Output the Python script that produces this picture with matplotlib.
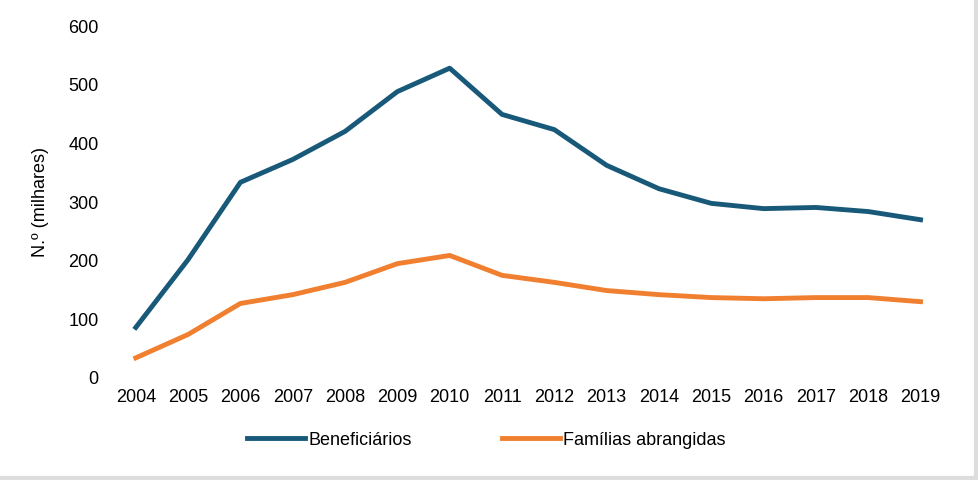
import matplotlib.pyplot as plt

years = [str(y) for y in range(2004, 2020)]
beneficiarios = [84, 200, 332, 371, 419, 487, 527, 448, 422, 361, 321, 296, 287, 289, 282, 268]
familias = [32, 72, 125, 140, 161, 193, 207, 173, 161, 147, 140, 135, 133, 135, 135, 128]

plt.rcParams['font.family'] = ['Liberation Sans', 'DejaVu Sans']
fig = plt.figure(figsize=(9.79, 4.81), dpi=100)
ax = fig.add_axes([0.112, 0.215, 0.855, 0.73])

ax.plot(years, beneficiarios, color='#18597a', lw=3.5, label='Beneficiários')
ax.plot(years, familias, color='#f07f2f', lw=3.5, label='Famílias abrangidas')

ax.set_ylim(0, 600)
ax.set_yticks(range(0, 601, 100))
ax.set_xlim(-0.5, 15.5)
ax.set_ylabel('N.º (milhares)', fontsize=13, labelpad=14)
ax.tick_params(length=0, labelsize=13, pad=8)
for s in ax.spines.values():
    s.set_visible(False)
ax.legend(loc='upper center', bbox_to_anchor=(0.45, -0.11), ncol=2, frameon=False,
          fontsize=13, handlelength=3.2, handletextpad=0.2, columnspacing=5)

# thin grey frame on the right and bottom edges
fig.add_artist(plt.Line2D([0.997, 0.997], [0, 1], color='#dddddd', lw=3, transform=fig.transFigure))
fig.add_artist(plt.Line2D([0, 1], [0.004, 0.004], color='#dddddd', lw=3, transform=fig.transFigure))

fig.savefig('out.png', dpi=100)
